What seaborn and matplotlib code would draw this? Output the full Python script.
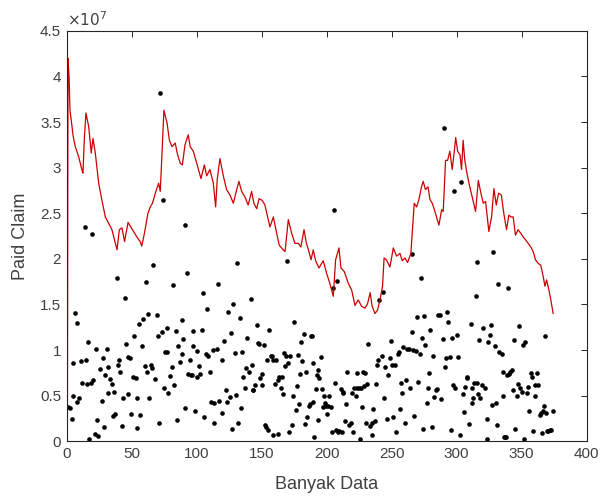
import numpy as np
import pandas as pd
import matplotlib
matplotlib.use("Agg")
import matplotlib.pyplot as plt
import seaborn as sns

sns.set_style("white")
plt.rcParams['font.family'] = ['Liberation Sans', 'DejaVu Sans']

# red line (values in units of 1e7)
line_x = [0.5, 1, 1.8, 2.5, 3.5, 5, 6.6, 9.2, 11.8, 12.5, 13.5, 14.8, 16.9, 18.9, 20.2, 22, 24.6, 27,
          29.7, 32.3, 34.8, 37.4, 38.7, 40.5, 42.5, 44.5, 47.2, 50.2, 52.3, 54, 56.5, 57.7, 59.8, 62.5,
          64.3, 66, 68.2, 70.7, 72, 73.3, 74.8, 77.2, 79, 81, 83.5, 85, 87.3, 89, 91, 93.5, 95, 97.4,
          100, 103.3, 105.9, 107.7, 110.2, 112.8, 114.6, 115.8, 117.9, 120.5, 123, 125.6, 128.2,
          130.8, 132.5, 134.6, 137.1, 139.6, 142.3, 144, 146.2, 148, 150.5, 152.5, 154.6, 156.4, 159,
          160.7, 163.5, 165.9, 168, 170.5, 173.1, 175.6, 178.2, 180.2, 182.6, 184.4, 186, 188, 189.7,
          191.5, 194.1, 197.4, 200, 202.5, 205.1, 206.9, 209.5, 211, 213.6, 216.7, 219.2, 221.8,
          224.3, 226.9, 229.5, 231.5, 233.5, 235, 237.2, 239.2, 241, 243, 244.2, 246, 248.7, 251.3,
          253.8, 256.4, 258.2, 260.2, 262.3, 264.8, 265.9, 267.4, 269.2, 271, 273, 274.3, 276, 278,
          279.5, 281.3, 283.3, 286.4, 288.5, 289.7, 291.5, 293.1, 294.8, 296.6, 298.3, 299.3, 300.8,
          302.6, 303.8, 305, 306.3, 307.7, 309.5, 312, 314.6, 316.7, 318.7, 320.5, 322.3, 324.8,
          326.9, 328.7, 330.5, 332.3, 334.4, 336.3, 338.4, 340.2, 341.7, 343.5, 345.3, 347.3, 349.4,
          351.2, 353, 355.1, 357.1, 358.9, 360.7, 362.8, 364.8, 366.7, 368, 369.2, 371, 372.5, 374.3]
line_y = [0.0, 4.2, 4.0, 3.63, 3.52, 3.34, 3.23, 3.12, 2.97, 2.94, 3.30, 3.60, 3.45, 3.16, 3.32, 3.16,
          2.83, 2.65, 2.46, 2.39, 2.32, 2.17, 2.10, 2.32, 2.34, 2.19, 2.40, 2.33, 2.28, 2.24, 2.19,
          2.14, 2.28, 2.50, 2.57, 2.61, 2.72, 2.83, 2.74, 3.16, 3.63, 3.49, 3.30, 3.23, 3.27, 3.16,
          3.05, 3.03, 3.25, 3.36, 3.23, 3.18, 3.05, 2.88, 3.03, 2.91, 2.98, 2.83, 2.57, 2.87, 3.10,
          2.91, 2.76, 2.70, 2.61, 2.76, 2.85, 2.74, 2.68, 2.59, 2.74, 2.61, 2.55, 2.66, 2.64, 2.59,
          2.46, 2.35, 2.46, 2.34, 2.15, 2.11, 2.08, 2.43, 2.28, 2.17, 2.17, 2.13, 2.32, 2.17, 2.10,
          1.99, 2.10, 1.98, 1.90, 1.98, 1.84, 1.73, 1.59, 1.99, 2.12, 1.90, 1.86, 1.73, 1.66, 1.49,
          1.55, 1.48, 1.46, 1.51, 1.63, 1.48, 1.40, 1.44, 1.55, 1.70, 2.01, 1.99, 1.91, 2.12, 2.03,
          2.06, 1.98, 2.01, 1.96, 2.06, 2.30, 2.61, 2.57, 2.65, 2.79, 2.85, 2.76, 2.79, 2.65, 2.61,
          2.52, 2.37, 2.54, 2.52, 3.08, 3.08, 3.18, 2.98, 3.19, 3.33, 3.18, 3.14, 2.98, 3.30, 3.08,
          2.96, 2.83, 2.68, 2.52, 2.86, 2.72, 2.61, 2.63, 2.30, 2.46, 2.77, 2.59, 2.72, 2.70, 2.50,
          2.32, 2.48, 2.46, 2.46, 2.26, 2.32, 2.28, 2.24, 2.21, 2.17, 2.13, 2.08, 1.99, 1.95, 1.93,
          1.80, 1.70, 1.77, 1.66, 1.55, 1.40]

# scattered claims (values in units of 1e7)
dot_x = [1.3, 2.6, 3.8, 5.1, 6.4, 8.2, 7.7, 9.7, 4.6, 10.8, 14.9, 16.7, 11.5, 15.4, 18.5, 20.5, 17.4,
         21.8, 24.4, 23.6, 26.9, 22.6, 27.7, 28.7, 25.6, 29.5, 30.8, 32.1, 33.3, 34.6, 32.1, 35.9,
         37.2, 36.7, 38.5, 39.7, 40.3, 41.0, 42.3, 43.6, 44.9, 45.4, 46.9, 48.7, 47.4, 49.5, 50.8,
         51.8, 53.3, 53.8, 54.4, 55.6, 56.4, 57.7, 58.5, 60.8, 60.3, 61.5, 62.8, 63.6, 64.6, 65.4,
         66.7, 67.9, 69.2, 70.5, 71.0, 73.1, 75.6, 76.9, 77.4, 74.9, 77.7, 79.5, 80.8, 82.1, 82.8,
         83.8, 84.6, 85.9, 87.2, 88.5, 89.0, 89.7, 91.0, 92.3, 93.6, 94.9, 95.4, 96.2, 96.9, 97.4,
         98.7, 100.0, 100.5, 102.1, 102.6, 103.8, 105.1, 105.6, 106.9, 107.7, 109.0, 110.3, 110.8,
         112.8, 113.3, 113.3, 115.4, 116.7, 117.4, 14.2, 19.7, 71.8, 73.8, 91.0,
         119.2, 121.0, 122.3, 123.0, 119.7, 123.8, 125.6, 126.1, 127.6, 126.9, 129.4, 130.7, 130.2,
         132.0, 133.3, 134.0, 135.1, 135.8, 137.1, 137.9, 138.9, 140.5, 141.5, 142.3, 143.0, 143.5,
         144.8, 146.1, 146.9, 148.2, 148.7, 149.9, 150.5, 151.7, 152.5, 154.3, 153.3, 155.1, 155.8,
         156.9, 157.6, 158.4, 158.9, 160.2, 161.0, 162.3, 162.8, 163.5, 164.6, 165.3, 166.1, 167.1,
         167.9, 168.7, 169.2, 169.9, 171.2, 171.7, 173.0, 174.3, 175.1, 176.1, 177.4, 178.1, 178.9,
         179.4, 180.2, 181.2, 182.5, 183.3, 184.0, 185.1, 186.1, 187.1, 187.6, 188.4, 189.2, 189.7,
         190.5, 191.5, 192.3, 193.0, 193.5, 194.3, 195.6, 196.4, 197.4, 197.9, 198.7, 199.4, 200.5,
         201.2, 202.0, 203.0, 204.0, 205.1, 206.4, 207.1, 208.1, 208.9, 209.7, 210.7, 211.5, 212.3,
         212.8, 214.0, 214.8, 215.8, 217.4, 218.4, 219.2, 220.5, 221.2, 222.5, 223.0, 223.5, 224.8,
         225.6, 226.1, 226.9, 227.6, 228.7, 229.4, 230.2, 230.7, 232.0, 233.3, 234.6, 234.6, 235.8,
         237.1, 237.9, 238.5, 239.7, 205.6, 240.2, 265.4,
         242.8, 243.6, 244.1, 244.8, 246.1, 247.4, 248.7, 249.5, 250.5, 251.2, 252.5, 253.3, 254.6,
         255.4, 256.4, 257.1, 258.2, 258.9, 260.2, 261.0, 262.0, 263.3, 264.1, 265.4, 266.6, 267.4,
         268.7, 269.7, 270.5, 271.8, 272.5, 273.6, 274.3, 275.1, 275.6, 276.9, 278.2, 278.9, 279.5,
         280.7, 282.0, 282.8, 283.8, 285.1, 285.9, 287.1, 287.9, 289.2, 291.0, 291.8, 292.8, 293.6,
         294.8, 295.6, 296.4, 297.4, 298.7, 300.0, 301.2, 302.5, 304.6, 305.9, 306.4, 307.7, 308.2,
         309.5, 310.7, 311.5, 312.0, 312.8, 313.6, 314.6, 315.4, 315.9, 316.6, 317.4, 317.9, 319.2,
         320.5, 321.8, 323.0, 323.6, 324.3, 325.6, 326.1, 326.9, 328.2, 329.5, 330.2, 330.7, 332.0,
         332.8, 334.6, 335.4, 335.9, 336.4, 337.1, 337.9, 338.9, 339.7, 340.0, 341.0, 342.3, 343.1,
         344.1, 344.8, 346.1, 347.4, 347.9, 348.7, 350.0, 350.7, 351.8, 352.5, 353.8, 354.6, 355.9,
         357.1, 357.9, 358.9, 360.2, 360.7, 362.0, 362.8, 364.1, 364.6, 365.4, 366.6, 367.1, 367.9,
         368.7, 369.2, 370.5, 371.8, 373.0, 373.8, 290.2, 297.9, 303.5]
dot_y = [0.38, 0.37, 0.25, 0.50, 1.41, 1.30, 0.43, 0.47, 0.86, 0.88, 0.89, 1.09, 0.64, 0.63, 0.64,
         0.67, 0.03, 0.08, 0.06, 0.23, 0.44, 1.01, 0.91, 0.16, 0.79, 0.73, 1.01, 0.81, 0.68, 0.63,
         0.53, 0.28, 0.30, 0.54, 1.79, 0.84, 0.89, 0.76, 0.17, 0.48, 1.57, 1.07, 0.92, 0.91, 0.52,
         0.30, 0.70, 1.15, 0.69, 0.48, 0.15, 1.29, 0.29, 1.05, 1.34, 1.75, 0.83, 0.76, 1.40, 0.48,
         0.84, 0.80, 1.93, 0.68, 1.38, 1.16, 0.20, 1.20, 0.98, 0.98, 1.24, 0.59, 0.53, 0.72, 0.81,
         1.71, 0.62, 1.21, 0.23, 1.05, 0.87, 0.96, 1.33, 1.12, 0.37, 1.84, 0.74, 0.89, 0.73, 0.73,
         1.05, 1.21, 0.33, 0.99, 0.71, 0.83, 0.74, 1.22, 1.63, 0.27, 0.96, 1.45, 0.93, 0.76, 0.43,
         1.00, 0.42, 0.20, 1.01, 1.72, 0.44, 2.35, 2.27, 3.82, 2.65, 2.37,
         0.89, 1.10, 0.56, 0.43, 0.31, 1.42, 0.49, 1.19, 1.50, 0.14, 0.97, 1.96, 0.51, 0.20, 1.35,
         0.37, 0.98, 0.70, 0.58, 0.80, 1.13, 0.76, 1.56, 0.84, 0.56, 0.56, 0.62, 1.27, 1.08, 1.07,
         0.69, 0.74, 0.62, 1.06, 0.18, 0.89, 0.16, 0.12, 1.22, 0.93, 0.94, 0.07, 0.89, 0.63, 0.89,
         0.08, 0.67, 0.70, 0.59, 0.70, 0.52, 0.97, 0.83, 0.94, 1.98, 0.86, 0.10, 0.94, 0.18, 0.50,
         1.31, 0.34, 0.61, 0.95, 0.41, 0.74, 1.09, 0.88, 1.18, 0.19, 0.76, 0.27, 0.39, 0.41, 1.15,
         1.15, 0.86, 0.43, 0.05, 0.57, 0.73, 0.23, 0.78, 0.69, 0.92, 0.57, 0.38, 0.50, 0.42, 0.39,
         0.30, 0.39, 0.50, 0.38, 0.10, 1.68, 0.64, 0.12, 1.76, 0.10, 0.11, 0.57, 0.10, 0.53, 0.54,
         0.22, 0.41, 0.76, 0.18, 0.20, 0.53, 0.10, 0.59, 0.50, 0.75, 0.58, 0.58, 0.03, 0.58, 0.38,
         0.76, 0.61, 0.75, 0.20, 0.63, 1.07, 0.17, 0.20, 0.07, 0.35, 0.22, 0.63, 0.84, 0.89, 2.54,
         1.55, 2.05,
         0.93, 1.64, 0.47, 0.82, 0.24, 0.73, 0.91, 1.10, 0.84, 0.27, 0.84, 0.10, 0.96, 0.98, 0.35,
         0.64, 0.53, 1.03, 0.20, 0.67, 1.01, 1.01, 0.58, 1.20, 1.00, 0.28, 0.99, 1.36, 0.65, 0.96,
         1.79, 1.13, 0.14, 1.37, 1.06, 0.42, 0.58, 0.75, 1.22, 0.16, 0.94, 0.49, 0.56, 0.57, 1.38,
         1.39, 0.46, 1.12, 0.81, 0.91, 1.42, 1.31, 0.92, 0.12, 1.13, 0.62, 0.59, 1.17, 0.92, 0.07,
         0.52, 0.32, 0.60, 0.69, 0.70, 0.19, 1.29, 0.58, 0.42, 0.47, 0.64, 1.59, 1.97, 0.64, 0.52,
         1.11, 0.47, 0.62, 1.24, 0.59, 0.03, 0.24, 1.09, 1.17, 1.28, 0.40, 2.08, 1.04, 0.42, 0.18,
         1.73, 0.98, 0.96, 0.50, 0.76, 0.05, 0.05, 0.05, 0.73, 1.68, 0.74, 0.76, 0.78, 0.56, 1.11,
         0.13, 0.50, 0.63, 1.26, 0.58, 0.54, 1.06, 0.03, 1.09, 0.53, 0.60, 0.33, 0.75, 0.71, 0.11,
         0.62, 0.50, 0.75, 0.62, 0.29, 0.31, 0.09, 0.33, 0.39, 1.15, 0.31, 0.11, 0.11, 0.12, 0.12,
         0.33, 3.43, 2.74, 2.84]

x_ticks = [0, 50, 100, 150, 200, 250, 300, 350, 400]
y_ticks = [0, 0.5, 1, 1.5, 2, 2.5, 3, 3.5, 4, 4.5]

line_df = pd.DataFrame({'idx': line_x, 'claim': line_y})
dot_df = pd.DataFrame({'idx': dot_x, 'claim': dot_y})

fig = plt.figure(figsize=(6.01, 4.97), dpi=100)
ax = fig.add_axes([0.111, 0.112, 0.865, 0.826])

sns.lineplot(data=line_df, x='idx', y='claim', color='#cc0000', linewidth=0.9,
             sort=False, estimator=None, ax=ax)
sns.scatterplot(data=dot_df, x='idx', y='claim', color='black', s=11, linewidth=0, ax=ax)

ax.set_xlim(0, 400)
ax.set_ylim(0, 4.5)
ax.set_xticks(x_ticks)
ax.set_yticks(y_ticks)
ax.set_yticklabels(['%g' % t for t in y_ticks])
ax.tick_params(direction='in', top=True, right=True, length=4, width=0.7,
               color='#262626', labelcolor='#404040', labelsize=11, pad=4)
ax.tick_params(axis='x', labeltop=False)
ax.tick_params(axis='y', labelright=False)
for sp in ax.spines.values():
    sp.set_visible(True)
    sp.set_color('#262626')
    sp.set_linewidth(0.8)

ax.set_xlabel('Banyak Data', fontsize=13, color='#404040', labelpad=11)
ax.set_ylabel('Paid Claim', fontsize=13, color='#404040', labelpad=8)
ax.text(0.0, 1.005, r'$\times10^{7}$', transform=ax.transAxes, ha='left', va='bottom',
        fontsize=11, color='#404040')

fig.savefig('out.png', dpi=100)
